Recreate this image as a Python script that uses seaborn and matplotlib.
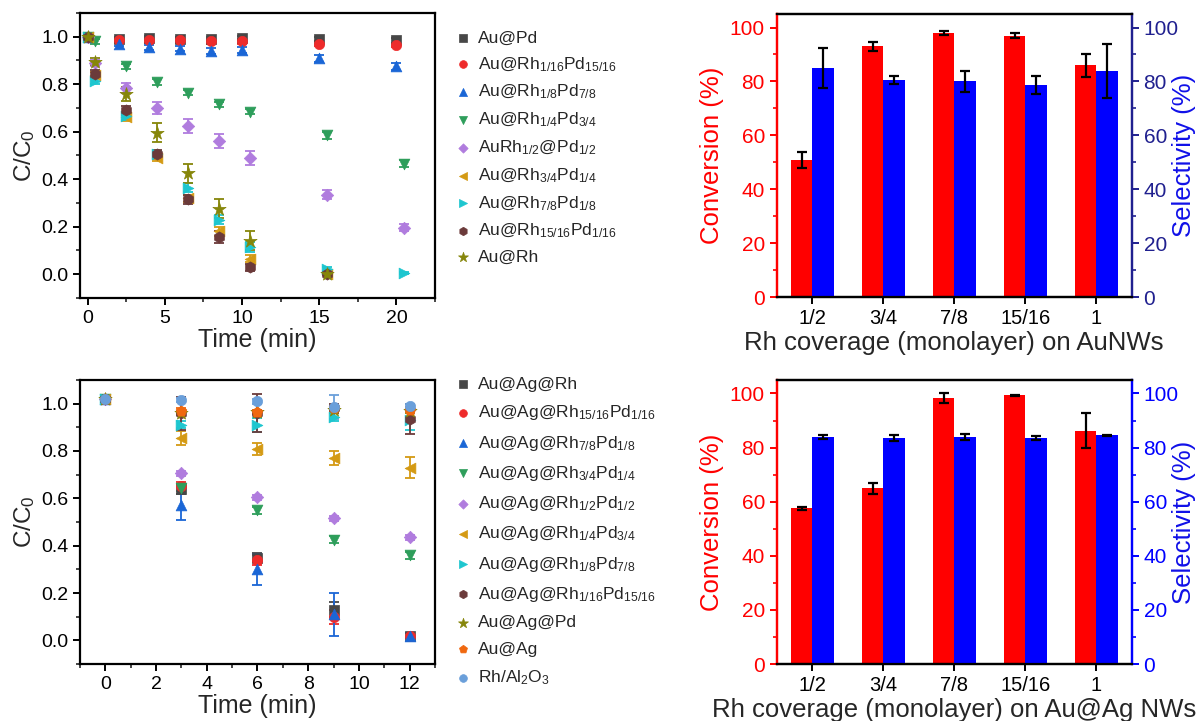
import numpy as np
import matplotlib
matplotlib.use("Agg")
import matplotlib.pyplot as plt
import seaborn as sns
from matplotlib.ticker import MultipleLocator

# ---------------- data: panel (a) Au NWs time course ----------------
labels_a = [
    "Au@Pd",
    r"Au@Rh$_\mathregular{1/16}$Pd$_\mathregular{15/16}$",
    r"Au@Rh$_\mathregular{1/8}$Pd$_\mathregular{7/8}$",
    r"Au@Rh$_\mathregular{1/4}$Pd$_\mathregular{3/4}$",
    r"AuRh$_\mathregular{1/2}$@Pd$_\mathregular{1/2}$",
    r"Au@Rh$_\mathregular{3/4}$Pd$_\mathregular{1/4}$",
    r"Au@Rh$_\mathregular{7/8}$Pd$_\mathregular{1/8}$",
    r"Au@Rh$_\mathregular{15/16}$Pd$_\mathregular{1/16}$",
    "Au@Rh",
]
t_a0 = [0, 2, 4, 6, 8, 10, 15, 20]
t_a1 = [0, 0.5, 2.5, 4.5, 6.5, 8.5, 10.5, 15.5, 20.5]
t_a2 = [0, 0.5, 2.5, 4.5, 6.5, 8.5, 10.5, 15.5]
times_a = [t_a0, t_a0, t_a0, t_a1, t_a1, t_a2, t_a1, t_a2, t_a2]
y_a = [
    [1.0, 0.99, 0.995, 0.99, 0.99, 0.995, 0.99, 0.985],
    [1.0, 0.985, 0.985, 0.985, 0.98, 0.98, 0.97, 0.965],
    [1.0, 0.97, 0.955, 0.95, 0.94, 0.945, 0.91, 0.875],
    [1.0, 0.98, 0.875, 0.81, 0.765, 0.715, 0.685, 0.585, 0.465],
    [1.0, 0.89, 0.785, 0.70, 0.625, 0.56, 0.49, 0.335, 0.195],
    [1.0, 0.84, 0.66, 0.49, 0.32, 0.18, 0.065, 0.0],
    [1.0, 0.815, 0.665, 0.505, 0.365, 0.23, 0.115, 0.02, 0.005],
    [1.0, 0.845, 0.69, 0.505, 0.315, 0.155, 0.03, 0.0],
    [1.0, 0.895, 0.76, 0.595, 0.425, 0.275, 0.14, 0.0],
]
e_a = [
    [0.005, 0.01, 0.01, 0.01, 0.01, 0.01, 0.01, 0.01],
    [0.005, 0.01, 0.01, 0.01, 0.01, 0.01, 0.01, 0.01],
    [0.005, 0.01, 0.012, 0.012, 0.012, 0.012, 0.015, 0.015],
    [0.005, 0.01, 0.012, 0.012, 0.012, 0.012, 0.012, 0.015, 0.015],
    [0.005, 0.012, 0.02, 0.025, 0.03, 0.03, 0.03, 0.02, 0.015],
    [0.005, 0.012, 0.015, 0.015, 0.015, 0.02, 0.015, 0.005],
    [0.005, 0.012, 0.015, 0.015, 0.02, 0.02, 0.02, 0.01, 0.005],
    [0.005, 0.015, 0.02, 0.02, 0.02, 0.025, 0.015, 0.005],
    [0.005, 0.015, 0.03, 0.04, 0.04, 0.04, 0.04, 0.005],
]

# ---------------- data: panel (c) Au@Ag NWs time course ----------------
labels_c = [
    "Au@Ag@Rh",
    r"Au@Ag@Rh$_\mathregular{15/16}$Pd$_\mathregular{1/16}$",
    r"Au@Ag@Rh$_\mathregular{7/8}$Pd$_\mathregular{1/8}$",
    r"Au@Ag@Rh$_\mathregular{3/4}$Pd$_\mathregular{1/4}$",
    r"Au@Ag@Rh$_\mathregular{1/2}$Pd$_\mathregular{1/2}$",
    r"Au@Ag@Rh$_\mathregular{1/4}$Pd$_\mathregular{3/4}$",
    r"Au@Ag@Rh$_\mathregular{1/8}$Pd$_\mathregular{7/8}$",
    r"Au@Ag@Rh$_\mathregular{1/16}$Pd$_\mathregular{15/16}$",
    "Au@Ag@Pd",
    "Au@Ag",
    r"Rh/Al$_\mathregular{2}$O$_\mathregular{3}$",
]
t_c = [0, 3, 6, 9, 12]
y_c = [
    [1.02, 0.64, 0.35, 0.13, 0.02],
    [1.02, 0.65, 0.34, 0.10, 0.02],
    [1.02, 0.57, 0.30, 0.11, 0.02],
    [1.02, 0.645, 0.55, 0.425, 0.36],
    [1.02, 0.705, 0.605, 0.515, 0.435],
    [1.02, 0.855, 0.81, 0.77, 0.73],
    [1.02, 0.91, 0.91, 0.945, 0.93],
    [1.02, 0.96, 0.96, 0.98, 0.935],
    [1.02, 0.96, 0.965, 0.975, 0.97],
    [1.02, 0.97, 0.965, 0.98, 0.975],
    [1.02, 1.015, 1.01, 0.985, 0.99],
]
e_c = [
    [0.005, 0.02, 0.02, 0.03, 0.01],
    [0.005, 0.02, 0.02, 0.03, 0.01],
    [0.005, 0.06, 0.065, 0.09, 0.01],
    [0.005, 0.015, 0.015, 0.015, 0.015],
    [0.005, 0.01, 0.01, 0.01, 0.01],
    [0.005, 0.03, 0.025, 0.03, 0.045],
    [0.005, 0.015, 0.03, 0.02, 0.04],
    [0.005, 0.07, 0.08, 0.02, 0.065],
    [0.005, 0.01, 0.01, 0.01, 0.01],
    [0.005, 0.01, 0.01, 0.01, 0.01],
    [0.005, 0.01, 0.01, 0.05, 0.01],
]

# ---------------- data: bar panels ----------------
coverage = ["1/2", "3/4", "7/8", "15/16", "1"]
conv_b = [51, 93, 98, 97, 86]
conv_b_err = [3.0, 1.8, 0.8, 1.0, 4.2]
sel_b = [85, 80.5, 80, 78.7, 83.8]
sel_b_err = [7.3, 1.5, 3.8, 3.5, 10.0]
conv_d = [57.5, 65, 98.2, 99.3, 86.2]
conv_d_err = [0.6, 2.0, 1.8, 0.2, 6.5]
sel_d = [84, 83.7, 84, 83.5, 84.5]
sel_d_err = [0.8, 1.1, 1.2, 0.8, 0.3]

# ---------------- styles ----------------
colors_a = ["#474747", "#EE2B2B", "#1A66D6", "#2E9E5B", "#B07CDE",
            "#D49A14", "#1EC6CF", "#6B3A3A", "#86860A"]
markers_a = ["s", "o", "^", "v", "D", "<", ">", "h", "*"]
sizes_a = [50, 55, 60, 60, 40, 60, 60, 65, 100]
colors_c = ["#474747", "#EE2B2B", "#1A66D6", "#2E9E5B", "#B07CDE",
            "#D49A14", "#1EC6CF", "#6B3A3A", "#86860A", "#F0680F", "#6A9FDA"]
markers_c = ["s", "o", "^", "v", "D", "<", ">", "h", "*", "p", "o"]
sizes_c = [50, 55, 60, 60, 40, 60, 60, 65, 100, 65, 55]

sns.set_theme(style="ticks")
plt.rcParams["font.family"] = ["Liberation Sans", "DejaVu Sans"]
plt.rcParams["mathtext.fontset"] = "custom"
plt.rcParams["mathtext.rm"] = "Liberation Sans"
plt.rcParams["mathtext.it"] = "Liberation Sans:italic"
plt.rcParams["axes.linewidth"] = 1.6

fig = plt.figure(figsize=(12.04, 7.21), dpi=100)
ax_a = fig.add_axes([0.0664, 0.5867, 0.2949, 0.3953])
ax_c = fig.add_axes([0.0664, 0.079, 0.2949, 0.394])
ax_b = fig.add_axes([0.6451, 0.588, 0.2949, 0.3925])
ax_d = fig.add_axes([0.6451, 0.079, 0.2949, 0.394])


def time_panel(ax, times, ys, es, labels, colors, markers, sizes, legend_y, spacing):
    for t, y, e, lab, c, m, s in zip(times, ys, es, labels, colors, markers, sizes):
        ax.errorbar(t, y, yerr=e, fmt="none", ecolor=c, elinewidth=1.3,
                    capsize=3.5, capthick=1.3, zorder=2)
        sns.scatterplot(x=t, y=y, ax=ax, color=c, marker=m, s=s,
                        edgecolor=c, linewidth=0.5, label=lab, zorder=3)
    ax.set_ylim(-0.1, 1.1)
    ax.yaxis.set_major_locator(MultipleLocator(0.2))
    ax.yaxis.set_minor_locator(MultipleLocator(0.1))
    ax.yaxis.set_major_formatter(matplotlib.ticker.FormatStrFormatter("%.1f"))
    ax.set_xlabel("Time (min)", fontsize=18, labelpad=1)
    ax.set_ylabel(r"C/C$_\mathregular{0}$", fontsize=17.5, labelpad=3)
    ax.tick_params(which="major", direction="out", length=5, width=1.4,
                   labelsize=14, colors="black")
    ax.tick_params(which="minor", direction="out", length=3, width=1.2)
    for sp in ax.spines.values():
        sp.set_visible(True)
        sp.set_color("black")
        sp.set_linewidth(1.6)
    leg = ax.legend(loc="upper left", bbox_to_anchor=(0.37, legend_y),
                    bbox_transform=fig.transFigure, frameon=False,
                    fontsize=12.5, labelspacing=spacing, handletextpad=0.3,
                    borderaxespad=0, handlelength=1.2, markerscale=0.75)
    return leg


time_panel(ax_a, times_a, y_a, e_a, labels_a, colors_a, markers_a, sizes_a,
           0.967, 0.54)
ax_a.set_xlim(-0.5, 22.5)
ax_a.xaxis.set_major_locator(MultipleLocator(5))
ax_a.xaxis.set_minor_locator(MultipleLocator(2.5))

time_panel(ax_c, [t_c] * len(y_c), y_c, e_c, labels_c, colors_c, markers_c,
           sizes_c, 0.487, 0.65)
ax_c.set_xlim(-1, 13)
ax_c.xaxis.set_major_locator(MultipleLocator(2))
ax_c.xaxis.set_minor_locator(MultipleLocator(1))


def bar_panel(ax, conv, conv_err, sel, sel_err, xlabel, right_color):
    x = np.arange(len(coverage))
    ax2 = ax.twinx()
    ekw = dict(elinewidth=1.6, capthick=1.6, ecolor="black")
    ax.bar(x - 0.15, conv, width=0.3, color="#FF0000", edgecolor="none",
           linewidth=0, yerr=conv_err, capsize=3.5, error_kw=ekw, zorder=2)
    ax2.bar(x + 0.15, sel, width=0.3, color="#0000FF", edgecolor="none",
            linewidth=0, yerr=sel_err, capsize=3.5, error_kw=ekw, zorder=2)
    for a in (ax, ax2):
        a.set_ylim(0, 105)
        a.yaxis.set_major_locator(MultipleLocator(20))
        a.yaxis.set_minor_locator(MultipleLocator(10))
        a.set_xlim(-0.5, 4.5)
    ax.set_xticks(x)
    ax.set_xticklabels(coverage)
    ax.set_xlabel(xlabel, fontsize=18.5, labelpad=2)
    ax.set_ylabel("Conversion (%)", fontsize=18.5, color="#FF0000", labelpad=4)
    ax2.set_ylabel("Selectivity (%)", fontsize=18.5, color="#1010E8", labelpad=-5)
    ax.tick_params(axis="x", which="major", direction="out", length=5, width=1.4,
                   labelsize=14.5, colors="black")
    ax.tick_params(axis="y", which="major", direction="out", length=5, width=1.4,
                   labelsize=15, colors="#FF0000")
    ax.tick_params(axis="y", which="minor", direction="out", length=3, width=1.2,
                   colors="#FF0000")
    ax2.tick_params(axis="y", which="major", direction="out", length=5, width=1.4,
                    labelsize=15, colors=right_color)
    ax2.tick_params(axis="y", which="minor", direction="out", length=3, width=1.2,
                    colors=right_color)
    for a in (ax, ax2):
        for sp in a.spines.values():
            sp.set_visible(True)
            sp.set_linewidth(1.6)
        a.spines["top"].set_color("black")
        a.spines["bottom"].set_color("black")
        a.spines["left"].set_color("#FF0000")
        a.spines["right"].set_color(right_color)
    ax.grid(False)
    ax2.grid(False)


bar_panel(ax_b, conv_b, conv_b_err, sel_b, sel_b_err,
          "Rh coverage (monolayer) on AuNWs", "#20208F")
bar_panel(ax_d, conv_d, conv_d_err, sel_d, sel_d_err,
          "Rh coverage (monolayer) on Au@Ag NWs", "#0000FF")

fig.savefig("out.png", dpi=100)
